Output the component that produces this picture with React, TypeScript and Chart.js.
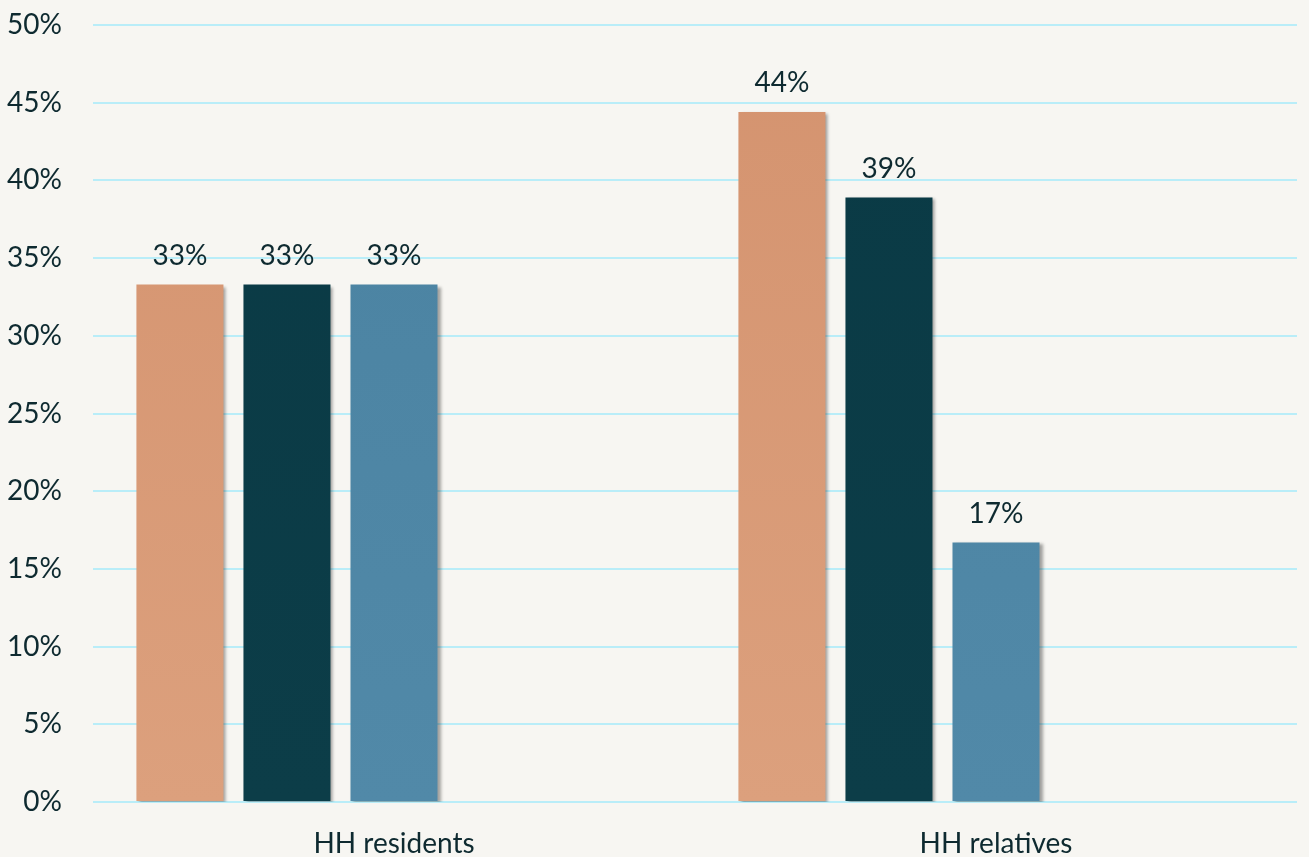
import React, { useEffect, useRef } from "react";
import { Chart, registerables } from "chart.js";

Chart.register(...registerables);

const categories = ["HH residents", "HH relatives"];
const seriesA = [33.3, 44.4];
const seriesB = [33.3, 38.9];
const seriesC = [33.3, 16.7];
const emptySeries: (number | null)[] = [null, null];
const yTicks = [0, 5, 10, 15, 20, 25, 30, 35, 40, 45, 50];

const FONT = "Lato, 'Open Sans', sans-serif";
const TEXT = "#0e2a30";

function vgrad(chart: any, top: string, bottom: string) {
  const { ctx, chartArea } = chart;
  if (!chartArea) return top;
  const g = ctx.createLinearGradient(0, chartArea.top, 0, chartArea.bottom);
  g.addColorStop(0, top);
  g.addColorStop(1, bottom);
  return g;
}

const shadowPlugin = {
  id: "barShadow",
  beforeDatasetDraw(chart: any) {
    const ctx = chart.ctx;
    ctx.save();
    ctx.shadowColor = "rgba(0,0,0,0.35)";
    ctx.shadowOffsetX = 3;
    ctx.shadowOffsetY = 2;
    ctx.shadowBlur = 3;
  },
  afterDatasetDraw(chart: any) {
    chart.ctx.restore();
  },
};

const labelPlugin = {
  id: "valueLabels",
  afterDatasetsDraw(chart: any) {
    const ctx = chart.ctx;
    ctx.save();
    ctx.font = `28px ${FONT}`;
    ctx.fillStyle = TEXT;
    ctx.textAlign = "center";
    ctx.textBaseline = "middle";
    chart.data.datasets.forEach((ds: any, di: number) => {
      const meta = chart.getDatasetMeta(di);
      meta.data.forEach((bar: any, i: number) => {
        const v = ds.data[i];
        if (v == null) return;
        ctx.fillText(`${Math.round(v)}%`, bar.x, bar.y - 29);
      });
    });
    ctx.restore();
  },
};

export default function App() {
  const ref = useRef<HTMLCanvasElement | null>(null);
  useEffect(() => {
    document.body.style.margin = "0";
    document.body.style.background = "#f7f6f2";
    const canvas = ref.current!;
    const chart = new Chart(canvas, {
      type: "bar",
      data: {
        labels: categories,
        datasets: [
          { label: "A", data: seriesA, backgroundColor: (c: any) => vgrad(c.chart, "#d4936f", "#dca07d") },
          { label: "B", data: seriesB, backgroundColor: (c: any) => vgrad(c.chart, "#0a3a45", "#0c3d48") },
          { label: "C", data: seriesC, backgroundColor: (c: any) => vgrad(c.chart, "#4a82a1", "#5189a8") },
          { label: "D", data: emptySeries, backgroundColor: "transparent" },
          { label: "E", data: emptySeries, backgroundColor: "transparent" },
        ],
      },
      options: {
        animation: false,
        responsive: false,
        maintainAspectRatio: false,
        layout: { padding: { top: 25, right: 12, left: 0, bottom: 0 } },
        datasets: { bar: { categoryPercentage: 0.889, barPercentage: 0.813 } },
        plugins: { legend: { display: false }, tooltip: { enabled: false } },
        scales: {
          x: {
            grid: { display: false, drawTicks: false },
            border: { display: false },
            ticks: { color: TEXT, font: { family: FONT, size: 28 }, padding: 25 },
            afterFit(scale: any) {
              scale.height = 55;
              scale.paddingLeft = 0;
              scale.paddingRight = 0;
            },
          },
          y: {
            min: 0,
            max: 50,
            afterBuildTicks(scale: any) {
              scale.ticks = yTicks.map((v) => ({ value: v }));
            },
            grid: { color: "#b9edf8", lineWidth: 2, drawTicks: false },
            border: { display: false },
            ticks: {
              color: TEXT,
              font: { family: FONT, size: 28 },
              padding: 31,
              callback: (v: any) => `${v}%`,
            },
            afterFit(scale: any) {
              scale.width = 93;
              scale.paddingTop = 0;
              scale.paddingBottom = 0;
            },
          },
        },
      },
      plugins: [shadowPlugin, labelPlugin],
    } as any);
    return () => chart.destroy();
  }, []);
  return (
    <div style={{ background: "#f7f6f2", width: 1309, height: 857 }}>
      <canvas ref={ref} width={1309} height={857} style={{ display: "block" }} />
    </div>
  );
}
